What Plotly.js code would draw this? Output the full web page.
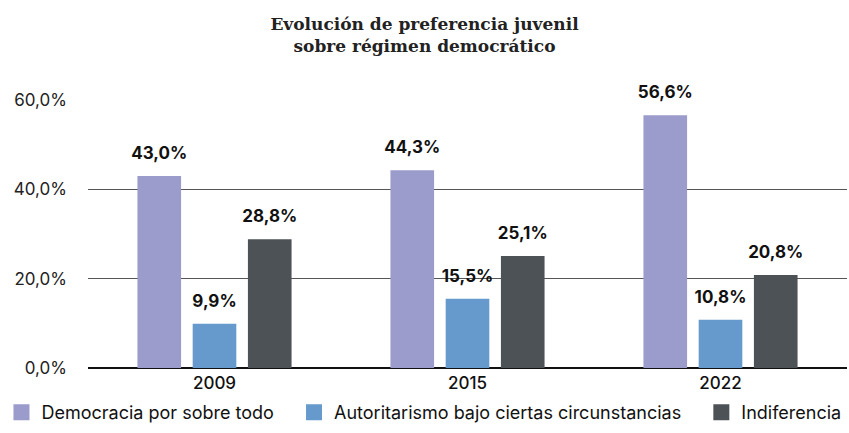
<!DOCTYPE html>
<html>
<head>
<meta charset="utf-8">
<script src="https://cdn.plot.ly/plotly-3.0.1.min.js"></script>
<style>html,body{margin:0;padding:0;background:#fff;}#chart{width:849px;height:433px;}</style>
</head>
<body>
<div id="chart"></div>
<script>
const years = ["2009", "2015", "2022"];
const democracia = [43.0, 44.3, 56.6];
const autoritarismo = [9.9, 15.5, 10.8];
const indiferencia = [28.8, 25.1, 20.8];
const seriesNames = ["Democracia por sobre todo", "Autoritarismo bajo ciertas circunstancias", "Indiferencia"];
const colors = ["#9b9bcc", "#6699cc", "#4d5257"];
const tickVals = [0, 20, 40, 60];
const tickText = tickVals.map(v => v.toFixed(1).replace(".", ",") + "%");

const sans = "Inter, 'Open Sans', sans-serif";
const allSeries = [democracia, autoritarismo, indiferencia];
const barTraces = allSeries.map((vals, i) => ({
  type: "bar",
  name: seriesNames[i],
  x: years,
  y: vals,
  marker: {color: colors[i]},
  texttemplate: "<b>%{y:.1f}%</b><br><span style='baseline-shift:12px'> </span>",
  textposition: "outside",
  constraintext: "none",
  cliponaxis: false,
  textfont: {family: sans, size: 17, color: "#111"},
  showlegend: false,
  hoverinfo: "skip"
}));
// legend-only entries with larger square swatches (a little trailing space widens the gap between entries)
const legendTraces = seriesNames.map((n, i) => ({
  type: "scatter", mode: "markers",
  name: i < seriesNames.length - 1 ? n + "\u00a0\u00a0\u00a0" : n,
  x: [null], y: [null],
  marker: {symbol: "square", size: 18, color: colors[i]},
  hoverinfo: "skip"
}));

const layout = {
  width: 849, height: 433,
  margin: {l: 88, r: 2, t: 100, b: 65},
  paper_bgcolor: "#fff", plot_bgcolor: "#fff",
  separators: ",.",
  barmode: "group",
  bargap: 0.345,
  bargroupgap: 0.21,
  title: {
    text: "Evolución de preferencia juvenil<br>sobre régimen democrático",
    font: {family: "'DejaVu Serif', serif", size: 17, color: "#222", weight: "bold"},
    x: 0.5, xanchor: "center", yref: "container", y: 0.93, yanchor: "top"
  },
  xaxis: {
    type: "category",
    tickfont: {family: sans, size: 17, color: "#111", weight: 500},
    showgrid: false, showline: false, ticks: "",
    ticklabelstandoff: 3,
    automargin: false
  },
  yaxis: {
    range: [0, 60],
    tickmode: "array",
    tickvals: tickVals,
    ticktext: tickText,
    tickfont: {family: sans, size: 17, color: "#222"},
    showgrid: true, gridcolor: "#555", gridwidth: 1,
    zeroline: true, zerolinecolor: "#111", zerolinewidth: 2.5,
    showline: false, ticks: "",
    ticklabelstandoff: 20,
    automargin: false
  },
  showlegend: true,
  legend: {
    orientation: "h", x: -0.114, xanchor: "left",
    y: -0.235, yanchor: "bottom",
    font: {family: sans, size: 18, color: "#111"},
    itemwidth: 30, traceorder: "normal", itemsizing: "trace"
  }
};

Plotly.newPlot("chart", barTraces.concat(legendTraces), layout, {displayModeBar: false, staticPlot: true});
</script>
</body>
</html>
